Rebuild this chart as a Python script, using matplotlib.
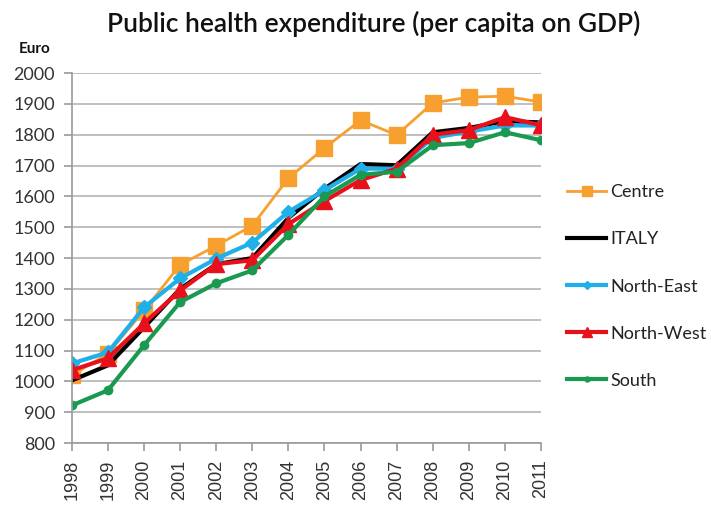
import numpy as np
import matplotlib
matplotlib.use("Agg")
import matplotlib.pyplot as plt

# ─── DATOS ─────────────────────────────────────────────────────────────────
years = [1998, 1999, 2000, 2001, 2002, 2003, 2004,
         2005, 2006, 2007, 2008, 2009, 2010, 2011]

centre     = [1020, 1090, 1230, 1378, 1440, 1505, 1659, 1757, 1847, 1799, 1903, 1922, 1925, 1906]
italy      = [1003, 1052, 1175, 1300, 1380, 1400, 1530, 1625, 1705, 1701, 1808, 1822, 1844, 1840]
north_east = [1058, 1094, 1240, 1334, 1398, 1450, 1550, 1620, 1690, 1690, 1790, 1810, 1830, 1830]
north_west = [1036, 1075, 1188, 1295, 1380, 1393, 1510, 1585, 1653, 1690, 1800, 1815, 1857, 1831]
south      = [922, 971, 1117, 1257, 1318, 1360, 1475, 1600, 1670, 1680, 1766, 1773, 1808, 1782]

series_names = ["Centre", "ITALY", "North-East", "North-West", "South"]
# ───────────────────────────────────────────────────────────────────────────

styles = {
    "Centre":     dict(color="#f7a030", marker="s", ms=11, lw=2.0),
    "ITALY":      dict(color="#000000", marker=None, ms=0, lw=3.0),
    "North-East": dict(color="#1fb0ea", marker="D", ms=7, lw=3.0),
    "North-West": dict(color="#e8101a", marker="^", ms=11, lw=3.0),
    "South":      dict(color="#1a9a50", marker="o", ms=6, lw=3.0),
}
values = {"Centre": centre, "ITALY": italy, "North-East": north_east,
          "North-West": north_west, "South": south}

fig = plt.figure(figsize=(7.11, 5.11), dpi=100)
ax = fig.add_axes([0.101, 0.133, 0.660, 0.724])

x = np.arange(len(years))
for name in series_names:
    st = styles[name]
    ax.plot(x, values[name], color=st["color"], lw=st["lw"],
            marker=st["marker"], ms=st["ms"], label=name,
            markeredgecolor=st["color"])

ax.set_xlim(0, len(years) - 1)
ax.set_ylim(800, 2000)
ax.set_yticks(np.arange(800, 2001, 100))
ax.set_xticks(x)
ax.set_xticklabels([str(y) for y in years], rotation=90,
                   fontsize=13, color="#333333", family="Liberation Sans")
for lab in ax.get_yticklabels():
    lab.set_fontsize(13)
    lab.set_color("#333333")
    lab.set_family("Lato")

ax.grid(axis="y", color="#b4b4b4", lw=1.2)
ax.set_axisbelow(True)
for s in ["top", "right"]:
    ax.spines[s].set_visible(False)
for s in ["left", "bottom"]:
    ax.spines[s].set_color("#9a9a9a")
    ax.spines[s].set_linewidth(1.2)
ax.tick_params(axis="both", direction="out", color="#9a9a9a", length=6, width=1.2, pad=6)

fig.text(0.525, 0.953, "Public health expenditure (per capita on GDP)",
         ha="center", va="center", fontsize=19, family="Lato",
         fontweight="semibold", color="#111111")
fig.text(0.027, 0.905, "Euro", ha="left", va="center", fontsize=11,
         fontweight="bold", family="Lato", color="#111111")

leg = ax.legend(loc="center left", bbox_to_anchor=(1.02, 0.423), frameon=False,
                prop={"family": "Lato", "size": 13}, labelspacing=1.72,
                handlelength=2.2, handletextpad=0.2, markerscale=0.6)
for t in leg.get_texts():
    t.set_color("#222222")

fig.savefig("out.png", dpi=100)
